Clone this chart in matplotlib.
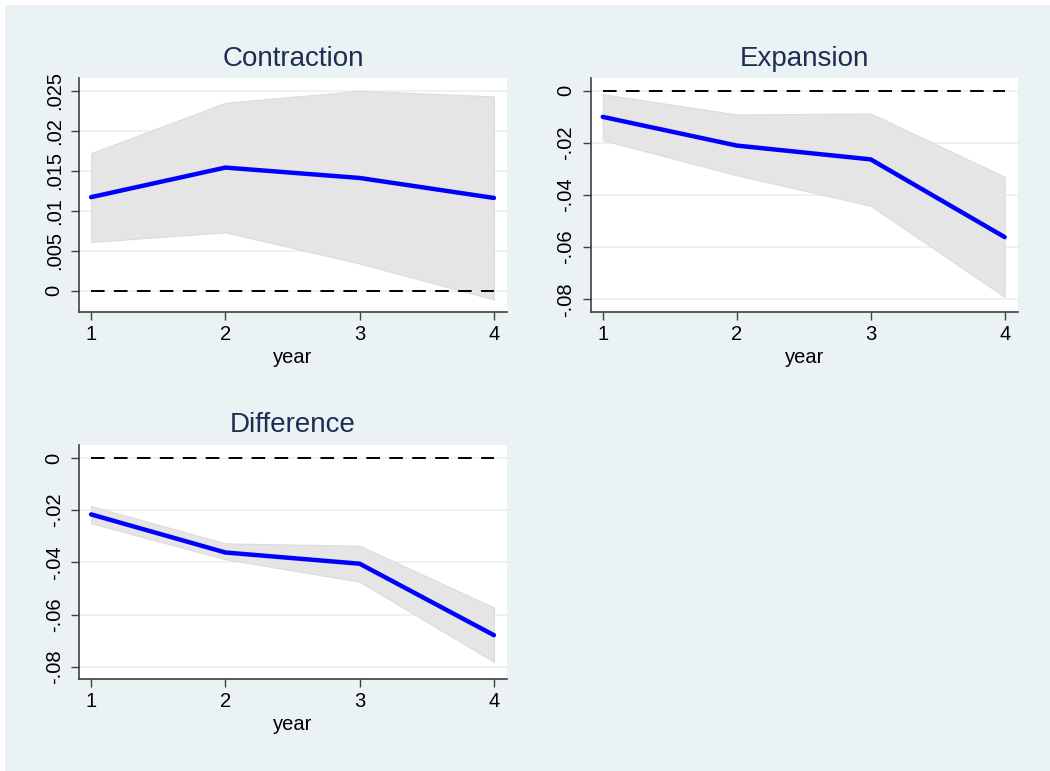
import matplotlib
matplotlib.use("Agg")
import matplotlib.pyplot as plt
from matplotlib.patches import Rectangle
from matplotlib.ticker import FuncFormatter

# data
years = [1, 2, 3, 4]

contraction = [0.0117, 0.0154, 0.0141, 0.0116]
contraction_hi = [0.0172, 0.0235, 0.0250, 0.0243]
contraction_lo = [0.0061, 0.0073, 0.0034, -0.0011]

expansion = [-0.0101, -0.0211, -0.0264, -0.0562]
expansion_hi = [-0.0014, -0.0092, -0.0088, -0.0331]
expansion_lo = [-0.0190, -0.0325, -0.0442, -0.0791]

difference = [-0.0216, -0.0362, -0.0405, -0.0679]
difference_hi = [-0.0184, -0.0327, -0.0336, -0.0573]
difference_lo = [-0.0250, -0.0388, -0.0474, -0.0781]

contraction_ticks = [0, 0.005, 0.01, 0.015, 0.02, 0.025]
negative_ticks = [0, -0.02, -0.04, -0.06, -0.08]

plt.rcParams['font.family'] = ['Liberation Sans', 'DejaVu Sans']

BG = '#eaf2f3'
W, H = 1050, 771

fig = plt.figure(figsize=(10.5, 7.71), dpi=100)
fig.patch.set_facecolor('white')
fig.patches.append(Rectangle((5 / W, 0), 1 - 5 / W, (H - 5) / H,
                             transform=fig.transFigure, facecolor=BG,
                             edgecolor='none', zorder=-10))


def stata_fmt(v, pos):
    if abs(v) < 1e-12:
        return '0'
    s = ('%.3f' % v).rstrip('0')
    return s.replace('0.', '.')


def panel(rect, title, mid, hi, lo, ticks, ylim):
    ax = fig.add_axes(rect)
    ax.set_facecolor('white')
    ax.fill_between(years, lo, hi, facecolor='#e5e5e5', edgecolor='#dcdcdc',
                    linewidth=0.8, zorder=1)
    ax.plot(years, [0] * len(years), color='black', linestyle=(0, (7, 4.8)),
            linewidth=1.4, zorder=2)
    ax.plot(years, mid, color='#0000ff', linewidth=3.2,
            solid_capstyle='round', zorder=3)
    ax.set_xlim(0.91, 4.097)
    ax.set_ylim(*ylim)
    ax.set_xticks(years)
    ax.set_yticks(ticks)
    ax.yaxis.set_major_formatter(FuncFormatter(stata_fmt))
    ax.grid(axis='y', color=BG, linewidth=1.3, zorder=0)
    ax.set_axisbelow(True)
    for side in ['top', 'right']:
        ax.spines[side].set_visible(False)
    for side in ['left', 'bottom']:
        ax.spines[side].set_color('#404040')
        ax.spines[side].set_linewidth(1.2)
    ax.tick_params(axis='both', length=6, width=1, color='#404040',
                   labelsize=14.5)
    ax.tick_params(axis='y', pad=5, labelrotation=90)
    ax.tick_params(axis='x', pad=3)
    for lab in ax.get_yticklabels():
        lab.set_va('center')
    ax.set_xlabel('year', fontsize=14.5, labelpad=3)
    ax.set_title(title, fontsize=20, color='#1e2d53', pad=9)
    return ax


panel([79 / W, 1 - 312 / H, 428 / W, 234 / H], 'Contraction',
      contraction, contraction_hi, contraction_lo,
      contraction_ticks, (-0.00266, 0.0266))
panel([590.7 / W, 1 - 312 / H, 427 / W, 234 / H], 'Expansion',
      expansion, expansion_hi, expansion_lo,
      negative_ticks, (-0.0849, 0.0048))
panel([79 / W, 1 - 679.3 / H, 428 / W, 234.3 / H], 'Difference',
      difference, difference_hi, difference_lo,
      negative_ticks, (-0.0848, 0.0050))

fig.savefig('out.png', dpi=100, facecolor=fig.get_facecolor())
